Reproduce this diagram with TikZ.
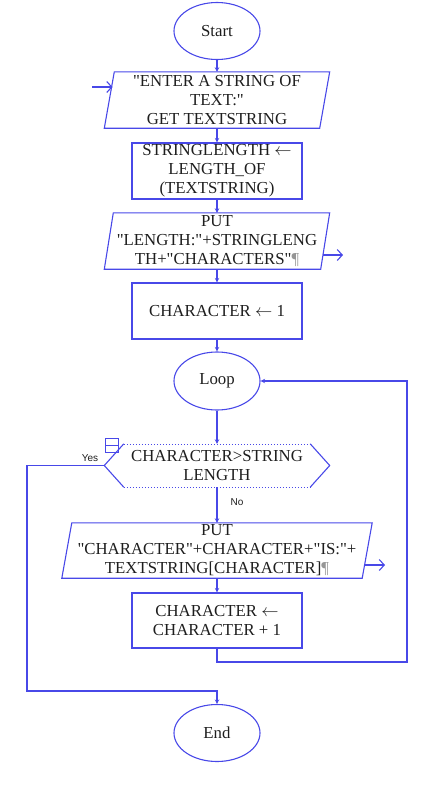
\documentclass[tikz,border=0pt]{standalone}
\usepackage{fontspec}
\setmainfont{Liberation Serif}[Ligatures=TeXOff]
\newfontfamily\labfont{Liberation Sans}
\usetikzlibrary{arrows.meta,shapes.geometric,calc}
\definecolor{fc}{RGB}{72,72,232}
\definecolor{pilcrow}{RGB}{150,150,150}
\definecolor{tx}{RGB}{30,30,30}
\tikzset{
  ln/.style={draw=fc, line width=1.1pt},
  txt/.style={font=\fontsize{16.8}{19}\selectfont, text=tx, align=center, inner sep=0pt},
  term/.style={txt, ellipse, ln, minimum width=86, minimum height=57},
  proc/.style={txt, rectangle, ln, minimum width=170, minimum height=56},
  io/.style={txt, rectangle, draw=none, minimum height=56},
  conn/.style={ln, -{Stealth[length=4.5pt,width=4.5pt]}},
  flow/.style={ln, -{Straight Barb[length=5pt,width=11pt]}},
  dots/.style={draw=fc, line width=0.6pt, dash pattern=on 1.6pt off 1.4pt},
  lab/.style={font=\labfont\fontsize{10}{12}\selectfont, text=tx, inner sep=0pt}
}
\newcommand{\pil}{\textcolor{pilcrow}{¶}}
\begin{document}
\begin{tikzpicture}[x=1pt,y=-1pt]
\useasboundingbox (0,0) rectangle (439,788);
% nodes
\node[term] (start) at (217,31) {Start};
\node[io, minimum width=215] (in1) at (217,100) {"ENTER A STRING OF\\TEXT:"\\GET TEXTSTRING};
\draw[ln] ([xshift=5]in1.north west) -- ([xshift=5]in1.north east) -- ([xshift=-5]in1.south east) -- ([xshift=-5]in1.south west) -- cycle;
\node[proc] (box1) at (217,171) {STRINGLENGTH $\leftarrow$\\LENGTH\_OF\\(TEXTSTRING)};
\node[io, minimum width=216] (out2) at (217,241) {PUT\\"LENGTH:"+STRINGLENG\\TH+"CHARACTERS"\pil};
\draw[ln] ([xshift=4.5]out2.north west) -- ([xshift=4.5]out2.north east) -- ([xshift=-4.5]out2.south east) -- ([xshift=-4.5]out2.south west) -- cycle;
\node[proc] (box2) at (217,311) {CHARACTER $\leftarrow$ 1};
\node[term, minimum height=58] (loop) at (217,381) {Loop};
\node[io, minimum width=186, minimum height=43] (dec) at (217,465.5) {CHARACTER>STRING\\LENGTH};
\coordinate (decL) at ($(dec.west)+(-19.5,0)$);
\coordinate (decR) at ($(dec.east)+(19.5,0)$);
\draw[ln] (dec.north west) -- (decL) -- (dec.south west);
\draw[ln] (dec.north east) -- (decR) -- (dec.south east);
\draw[dots] (dec.north west) -- (dec.north east);
\draw[dots] (dec.south west) -- (dec.south east);
\node[io, minimum width=300, minimum height=55] (out3) at (217,550.5) {PUT\\"CHARACTER"+CHARACTER+"IS:"+\\TEXTSTRING[CHARACTER]\pil};
\draw[ln] ([xshift=5]out3.north west) -- ([xshift=5]out3.north east) -- ([xshift=-5]out3.south east) -- ([xshift=-5]out3.south west) -- cycle;
\node[proc, minimum height=55] (box3) at (217,620.5) {CHARACTER $\leftarrow$\\CHARACTER + 1};
\node[term] (end) at (217,733) {End};
% small icon
\draw[ln, line width=0.9pt] (105,438) rectangle (118,452);
\draw[ln, line width=0.9pt] (105,445) -- (118,445);
% labels
\node[lab] (yes) at (90,458) {Yes};
\node[lab] (no) at (237,502) {No};
% in/out arrows
\coordinate (inA) at (92,87);
\coordinate (inB) at (112.5,87);
\draw[flow] (inA) -- (inB);
\coordinate (o2A) at (323,255);
\coordinate (o2B) at (343,255);
\draw[flow] (o2A) -- (o2B);
\coordinate (o3A) at (365,565);
\coordinate (o3B) at (385,565);
\draw[flow] (o3A) -- (o3B);
% connectors
\draw[conn] (start.south) -- (in1.north);
\draw[conn] (in1.south) -- (box1.north);
\draw[conn] (box1.south) -- (out2.north);
\draw[conn] (out2.south) -- (box2.north);
\draw[conn] (box2.south) -- (loop.north);
\draw[conn] (loop.south) -- (dec.north);
\draw[conn] (dec.south) -- (out3.north);
\draw[conn] (out3.south) -- (box3.north);
\coordinate (rc) at (407,662);
\draw[conn] (box3.south) |- (rc) |- (loop.east);
\coordinate (yc) at (27,691);
\draw[conn] (decL) -| (yc) -| (end.north);
\end{tikzpicture}
\end{document}
